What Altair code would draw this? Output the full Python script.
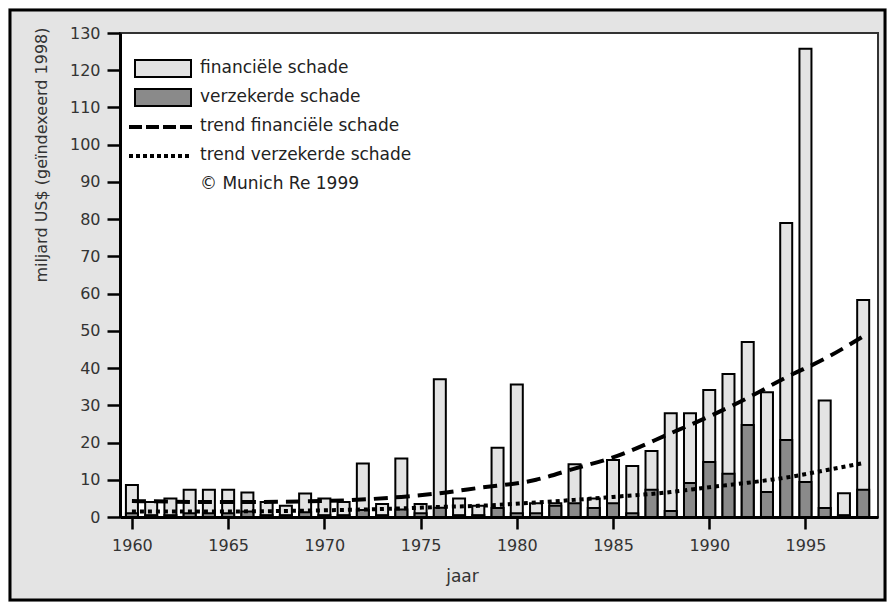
import altair as alt
import pandas as pd

years = list(range(1960, 1999))
financial = [8.6, 4.0, 5.0, 7.3, 7.3, 7.3, 6.6, 4.0, 3.0, 6.3,
             5.0, 4.0, 14.4, 3.5, 15.7, 3.5, 37.0, 5.0, 3.0, 18.6,
             35.6, 3.7, 3.7, 14.2, 5.0, 15.3, 13.7, 17.7, 27.9, 27.9,
             34.1, 38.4, 47.0, 33.5, 79.0, 125.8, 31.3, 6.4, 58.3]
insured = [1.0, 0.5, 0.5, 1.0, 1.0, 1.0, 1.5, 0.5, 0.5, 1.3,
           0.5, 0.5, 1.9, 0.5, 2.0, 1.0, 2.5, 0.5, 0.5, 2.4,
           1.0, 1.0, 3.0, 3.7, 2.4, 3.7, 1.0, 7.3, 1.6, 9.1,
           14.8, 11.6, 24.7, 6.7, 20.7, 9.4, 2.4, 0.5, 7.3]

trend_years = [1960, 1965, 1970, 1974, 1976, 1978, 1981, 1983, 1985, 1988, 1990, 1992, 1994, 1996, 1998]
trend_financial = [4.3, 4.0, 4.3, 5.4, 6.4, 7.8, 10.0, 13.0, 16.0, 22.5, 27.0, 32.0, 37.5, 42.5, 48.5]
trend_insured = [1.5, 1.5, 1.8, 2.3, 2.7, 3.0, 3.9, 4.6, 5.4, 6.7, 8.0, 9.2, 10.6, 12.5, 14.5]

x_ticks = [1960, 1965, 1970, 1975, 1980, 1985, 1990, 1995]
y_ticks = list(range(0, 131, 10))

legend_labels = ["financiële schade", "verzekerde schade", "trend financiële schade",
                 "trend verzekerde schade", "© Munich Re 1999"]

FONT = "DejaVu Sans"
W, H = 758, 484

bars = pd.DataFrame({"jaar": years, "fin": financial, "ins": insured})
trend = pd.DataFrame({"jaar": trend_years, "tf": trend_financial, "ti": trend_insured})
one = pd.DataFrame({"a": [0]})

xscale = alt.Scale(domain=[1959.64, 1998.51], nice=False, zero=False)
yscale = alt.Scale(domain=[0, 130], nice=False)

xaxis = alt.Axis(values=x_ticks, format="d", title="jaar", titleX=342, titleY=51,
                 titleFontWeight="normal", titleFontSize=17, titleFont=FONT, titleColor="#333",
                 labelFont=FONT, labelFontSize=16, labelColor="#333", labelPadding=8,
                 tickSize=12, tickWidth=2.5, tickColor="black", domainWidth=3, domainColor="black",
                 grid=False, labelFlush=False, labelOverlap=False, tickCount=8)
yaxis = alt.Axis(values=y_ticks, title="miljard US$ (geïndexeerd 1998)", titleAnchor="end",
                 titleFontWeight="normal", titleFontSize=16, titleFont=FONT, titleColor="#333",
                 titlePadding=20, titleY=-6,
                 labelFont=FONT, labelFontSize=16, labelColor="#333", labelPadding=7,
                 tickSize=13, tickWidth=2.5, tickColor="black", domainWidth=3, domainColor="black",
                 grid=False, labelOverlap=False, tickCount=14)

X = lambda f: alt.X(f, scale=xscale, axis=xaxis, title="jaar")
Y = lambda f: alt.Y(f, scale=yscale, axis=yaxis, title="miljard US$ (geïndexeerd 1998)")

frame = alt.Chart(one).mark_rect(fillOpacity=0, stroke="black", strokeWidth=3).encode(
    x=alt.value(-110), x2=alt.value(W + 7), y=alt.value(-23), y2=alt.value(H + 83))

fin_bars = alt.Chart(bars).mark_bar(size=12, fill="#e3e3e3", stroke="black", strokeWidth=2).encode(
    x=X("jaar:Q"), y=Y("fin:Q"))
ins_bars = alt.Chart(bars).mark_bar(size=12, fill="#8a8a8a", stroke="black", strokeWidth=2).encode(
    x=X("jaar:Q"), y=Y("ins:Q"))

tf_line = alt.Chart(trend).mark_line(color="black", strokeWidth=4, strokeDash=[14, 8],
                                      interpolate="monotone").encode(
    x=X("jaar:Q"), y=Y("tf:Q"))
ti_line = alt.Chart(trend).mark_line(color="black", strokeWidth=4, strokeDash=[4, 4],
                                      interpolate="monotone").encode(
    x=X("jaar:Q"), y=Y("ti:Q"))

leg = [
    alt.Chart(one).mark_rect(fill="#e3e3e3", stroke="black", strokeWidth=2).encode(
        x=alt.value(15), x2=alt.value(71), y=alt.value(27), y2=alt.value(44)),
    alt.Chart(one).mark_rect(fill="#8a8a8a", stroke="black", strokeWidth=2).encode(
        x=alt.value(15), x2=alt.value(71), y=alt.value(56), y2=alt.value(73)),
    alt.Chart(one).mark_rule(color="black", strokeWidth=4, strokeDash=[13, 4]).encode(
        x=alt.value(9), x2=alt.value(72), y=alt.value(94)),
    alt.Chart(one).mark_rule(color="black", strokeWidth=4, strokeDash=[4, 3]).encode(
        x=alt.value(9), x2=alt.value(72), y=alt.value(123)),
]
for i, lab in enumerate(legend_labels):
    leg.append(alt.Chart(one).mark_text(text=lab, font=FONT, fontSize=17, color="#222",
                                        align="left", baseline="middle").encode(
        x=alt.value(80), y=alt.value(35 + 29 * i)))

chart = alt.layer(frame, fin_bars, ins_bars, tf_line, ti_line, *leg).properties(
    width=W, height=H,
    autosize=alt.AutoSizeParams(type="none"),
    padding={"left": 112, "top": 25, "right": 9, "bottom": 85},
    background="#e4e4e4",
).configure_view(fill="white", stroke="#333", strokeWidth=2)

chart.save("out.html", embed_options={"renderer": "svg", "actions": False})
